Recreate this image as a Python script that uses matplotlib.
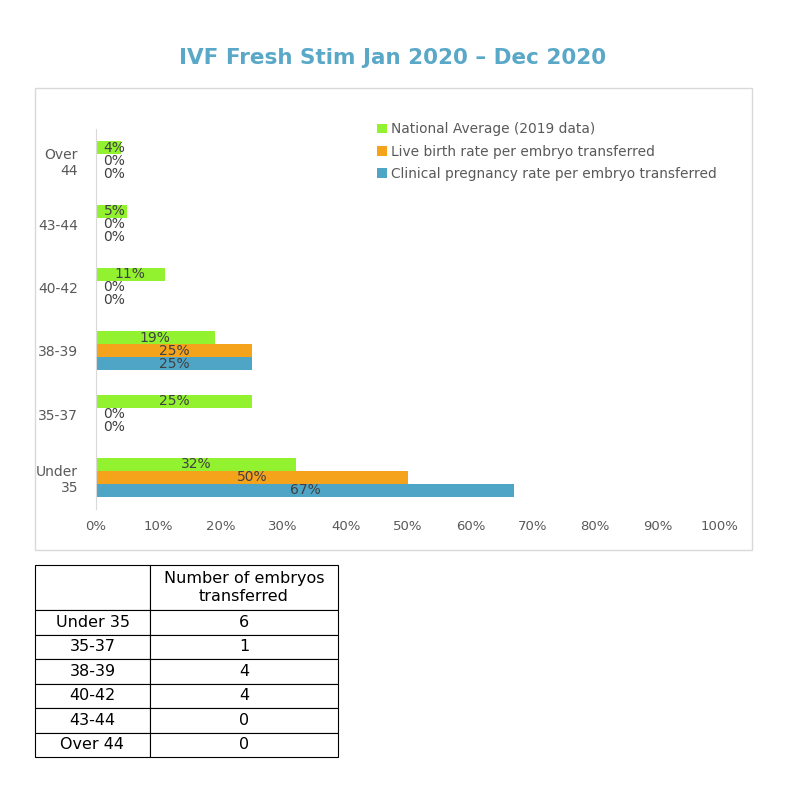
import numpy as np
import matplotlib
matplotlib.use('Agg')
import matplotlib.pyplot as plt
from matplotlib.patches import Rectangle

plt.rcParams['font.family'] = ['DejaVu Sans']

# data
groups = ['Under\n35', '35-37', '38-39', '40-42', '43-44', 'Over\n44']
national = [32, 25, 19, 11, 5, 4]
live_birth = [50, 0, 25, 0, 0, 0]
clinical = [67, 0, 25, 0, 0, 0]
series_names = ['National Average (2019 data)',
                'Live birth rate per embryo transferred',
                'Clinical pregnancy rate per embryo transferred']

table_rows = ['Under 35', '35-37', '38-39', '40-42', '43-44', 'Over 44']
embryos = [6, 1, 4, 4, 0, 0]

green = '#92F22F'
orange = '#F5A31B'
blue = '#4FA5C6'
txt = '#404040'

fig = plt.figure(figsize=(8, 8), dpi=100)

# chart frame
fig.patches.append(Rectangle((35/800, 1-550/800), 717/800, 462/800,
                             transform=fig.transFigure, fill=False,
                             edgecolor='#D9D9D9', linewidth=1))
fig.text(393/800, 1-58/800, 'IVF Fresh Stim Jan 2020 \u2013 Dec 2020',
         ha='center', va='center', fontsize=15.5, fontweight='bold', color='#5AA8C8')

ax = fig.add_axes([96/800, 1-509/800, 624/800, 380/800])
y = np.arange(len(groups))
h = 0.205
b1 = ax.barh(y + h, national, height=h, color=green, label=series_names[0])
b2 = ax.barh(y, live_birth, height=h, color=orange, label=series_names[1])
b3 = ax.barh(y - h, clinical, height=h, color=blue, label=series_names[2])

# labels centred on bar, pushed right when the bar is too short
for bars, vals in [(b1, national), (b2, live_birth), (b3, clinical)]:
    for bar, v in zip(bars, vals):
        yc = bar.get_y() + bar.get_height() / 2
        if v < 5.6:
            ax.text(1.2, yc, f'{v}%', ha='left', va='center', fontsize=10, color=txt)
        else:
            ax.text(v / 2, yc, f'{v}%', ha='center', va='center', fontsize=10, color=txt)

ax.set_xlim(0, 100)
ax.set_ylim(-0.5, 5.5)
ax.set_yticks(y)
ax.set_yticklabels(groups, fontsize=10, color='#595959')
ax.set_xticks(np.arange(0, 101, 10))
ax.set_xticklabels([f'{t}%' for t in range(0, 101, 10)], fontsize=9.5, color='#595959')
ax.tick_params(length=0)
ax.tick_params(axis='x', pad=8)
ax.tick_params(axis='y', pad=13)
for s in ['top', 'right', 'bottom']:
    ax.spines[s].set_visible(False)
ax.spines['left'].set_color('#D9D9D9')

handles = [b1, b2, b3]
fig.legend(handles, series_names, loc='upper left',
           bbox_to_anchor=(365/800, 1-110/800), frameon=False,
           fontsize=9.9, labelcolor='#595959', handlelength=0.7,
           handleheight=0.7, handletextpad=0.3, labelspacing=0.6)

# table
tax = fig.add_axes([35/800, 1-757/800, 303/800, 192/800])
tax.axis('off')
cells = [['', 'Number of embryos\ntransferred']] + [[r, str(n)] for r, n in zip(table_rows, embryos)]
tb = tax.table(cellText=cells, cellLoc='center', bbox=[0, 0, 1, 1],
               colWidths=[115/303, 188/303])
tb.auto_set_font_size(False)
tb.set_fontsize(11.5)
hdr = 45/192
rh = (1 - hdr) / len(table_rows)
for (r, c), cell in tb.get_celld().items():
    cell.set_height(hdr if r == 0 else rh)
    cell.set_linewidth(0.8)
    cell.set_edgecolor('black')

fig.savefig('out.png', dpi=100)
